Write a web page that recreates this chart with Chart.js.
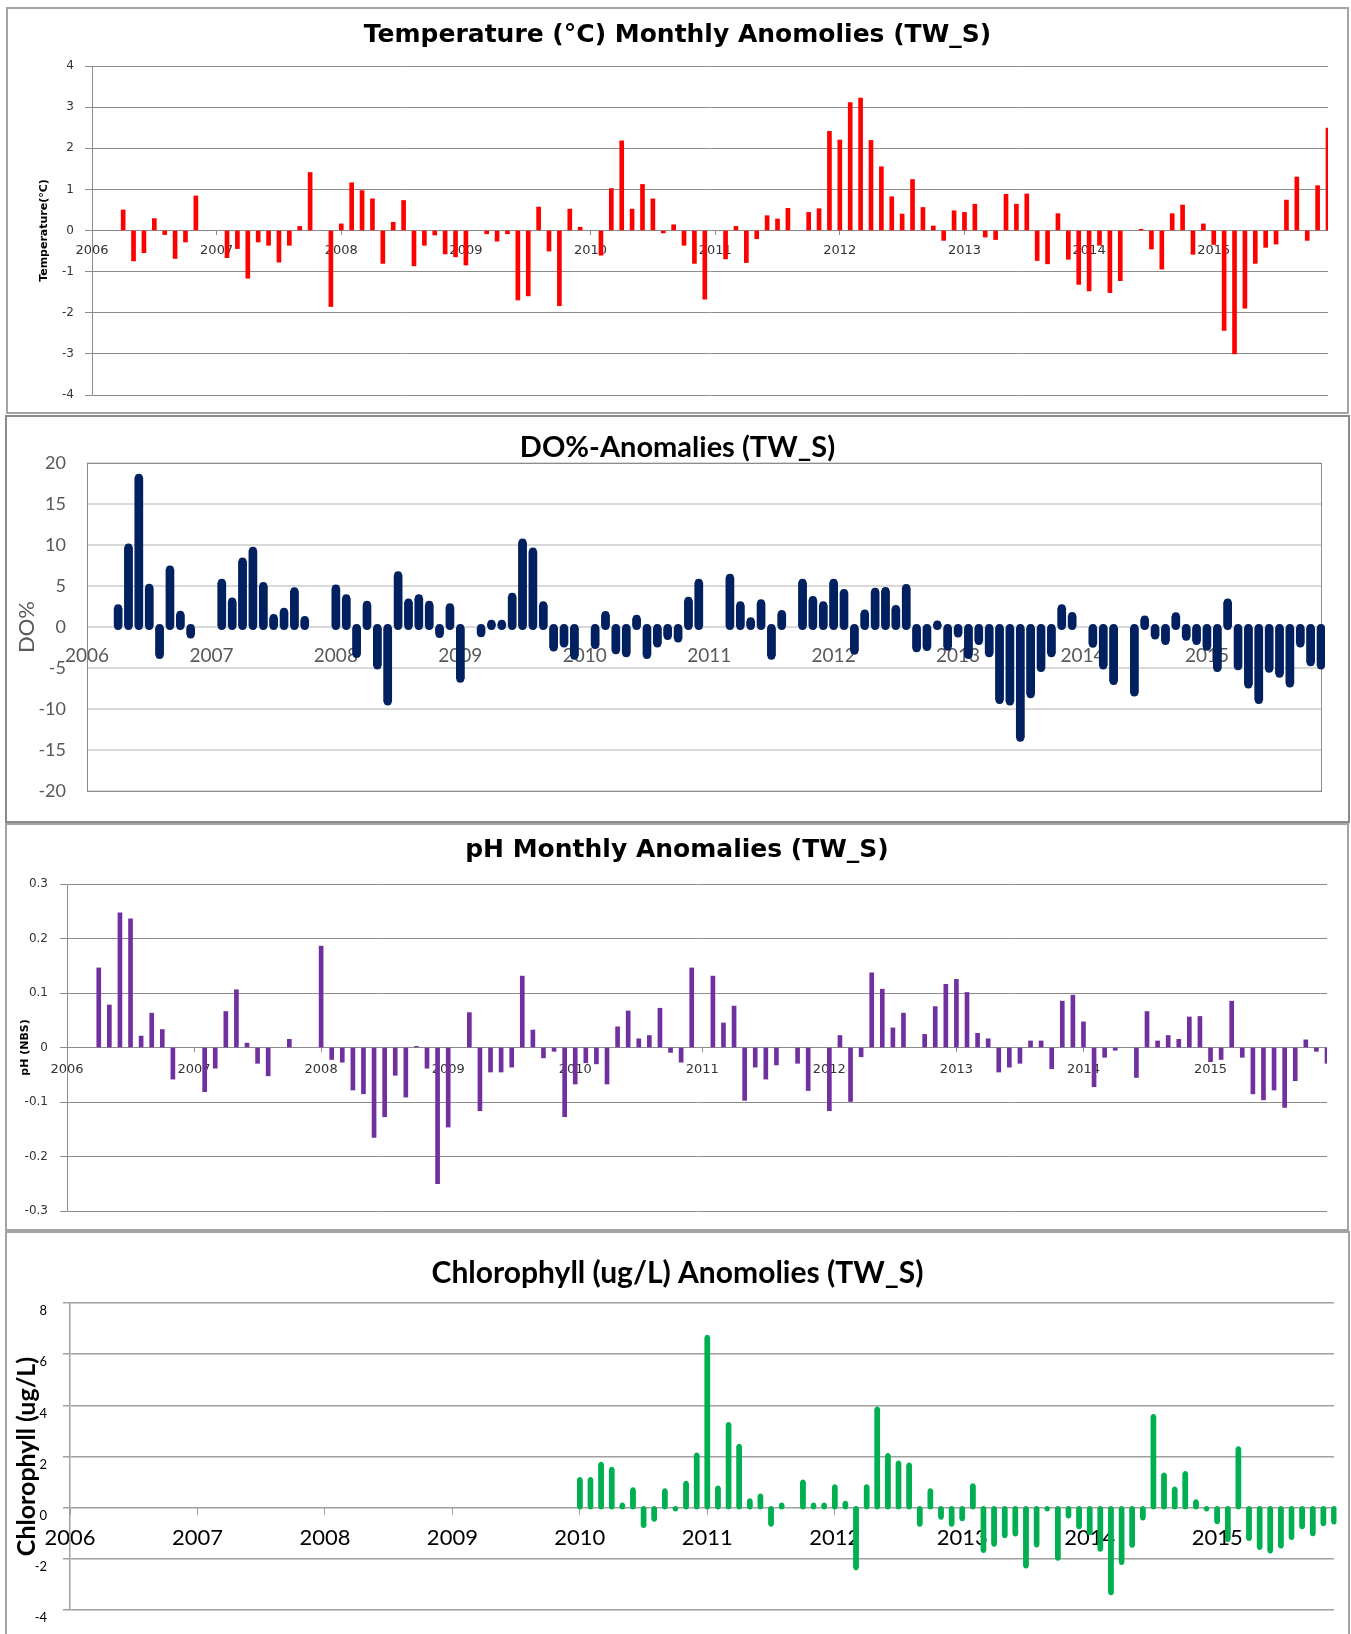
<!DOCTYPE html>
<html>
<head>
<meta charset="utf-8">
<script src="https://cdn.jsdelivr.net/npm/chart.js@4"></script>
<style>
  html, body { margin: 0; padding: 0; background: #fff; }
  body { width: 1351px; height: 1634px; position: relative; overflow: hidden; }
  .panel { position: absolute; box-sizing: border-box; border: 2px solid #a3a3a3; background: #fff; }
  .panel canvas { display: block; }
</style>
</head>
<body>
<div class="panel" style="left:6px;top:7px;width:1343px;height:407px"><canvas id="cTemp" width="1339" height="403"></canvas></div>
<div class="panel" style="left:5px;top:415px;width:1345px;height:408px;border-color:#8a8a8a"><canvas id="cDO" width="1341" height="404"></canvas></div>
<div class="panel" style="left:5px;top:823px;width:1344px;height:408px"><canvas id="cPH" width="1340" height="404"></canvas></div>
<div class="panel" style="left:5px;top:1231px;width:1345px;height:420px"><canvas id="cChl" width="1341" height="416"></canvas></div>

<script>
// ---------- data ----------
const years = [2006, 2007, 2008, 2009, 2010, 2011, 2012, 2013, 2014, 2015];
const monthNames = ['01','02','03','04','05','06','07','08','09','10','11','12'];
const months = [];
years.forEach(y => monthNames.forEach(m => months.push(y + '-' + m)));

// Temperature (°C) monthly anomalies, Jan 2006 .. Dec 2015
const temperature = [
  null, null, null, 0.50, -0.74, -0.54, 0.29, -0.10, -0.68, -0.28, 0.84, null,      // 2006
  null, -0.66, -0.44, -1.16, -0.28, -0.36, -0.77, -0.36, 0.10, 1.41, null, -1.85,   // 2007
  0.16, 1.16, 0.97, 0.77, -0.80, 0.20, 0.73, -0.86, -0.36, -0.11, -0.57, -0.64,     // 2008
  -0.84, null, -0.08, -0.26, -0.08, -1.69, -1.59, 0.57, -0.50, -1.83, 0.52, 0.08,   // 2009
  null, -0.60, 1.02, 2.18, 0.52, 1.12, 0.77, -0.06, 0.14, -0.36, -0.80, -1.67,      // 2010
  null, -0.69, 0.10, -0.78, -0.20, 0.36, 0.28, 0.54, null, 0.44, 0.53, 2.41,        // 2011
  2.20, 3.11, 3.22, 2.19, 1.55, 0.82, 0.40, 1.24, 0.56, 0.11, -0.24, 0.48,          // 2012
  0.44, 0.64, -0.16, -0.22, 0.88, 0.64, 0.89, -0.73, -0.81, 0.41, -0.70, -1.31,     // 2013
  -1.47, -0.36, -1.51, -1.22, null, 0.03, -0.45, -0.94, 0.41, 0.62, -0.58, 0.16,    // 2014
  -0.34, -2.43, -3.00, -1.89, -0.80, -0.41, -0.33, 0.74, 1.30, -0.24, 1.09, 2.49    // 2015
];

// DO% anomalies
const dissolvedOxygen = [
  null, null, null, 2.3, 9.7, 18.2, 4.8, -3.4, 7.0, 1.5, -0.9, null,                // 2006
  null, 5.4, 3.1, 8.0, 9.3, 5.0, 1.1, 1.85, 4.35, 0.85, null, null,                 // 2007
  4.7, 3.5, -3.3, 2.7, -4.7, -9.1, 6.3, 3.0, 3.5, 2.7, -0.85, 2.4,                  // 2008
  -6.3, null, -0.75, 0.4, 0.4, 3.7, 10.3, 9.2, 2.65, -2.5, -2.0, -3.5,              // 2009
  null, -2.2, 1.45, -2.85, -3.2, 1.0, -3.4, -2.0, -1.1, -1.4, 3.2, 5.4,             // 2010
  null, null, 6.0, 2.65, 0.7, 2.9, -3.5, 1.6, null, 5.4, 3.3, 2.65,                 // 2011
  5.4, 4.15, -2.9, 1.65, 4.3, 4.4, 2.2, 4.75, -2.6, -2.45, 0.3, -2.4,               // 2012
  -0.8, -3.4, -1.7, -3.2, -8.9, -9.1, -13.5, -8.2, -5.0, -3.2, 2.3, 1.35,           // 2013
  null, -2.05, -4.7, -6.6, null, -8.0, 0.9, -1.05, -1.7, 1.3, -1.2, -1.7,           // 2014
  -2.4, -5.0, 3.0, -4.8, -7.0, -8.9, -5.1, -5.7, -6.9, -2.0, -4.3, -4.7             // 2015
];

// pH (NBS) monthly anomalies
const ph = [
  null, null, null, 0.146, 0.078, 0.247, 0.236, 0.021, 0.063, 0.033, -0.058, null,          // 2006
  null, -0.081, -0.038, 0.066, 0.106, 0.008, -0.029, -0.052, null, 0.015, null, null,       // 2007
  0.186, -0.022, -0.027, -0.078, -0.085, -0.165, -0.127, -0.051, -0.091, 0.002, -0.038, -0.25, // 2008
  -0.146, null, 0.064, -0.116, -0.045, -0.045, -0.036, 0.131, 0.032, -0.019, -0.007, -0.127, // 2009
  -0.067, -0.028, -0.030, -0.067, 0.038, 0.067, 0.016, 0.022, 0.072, -0.009, -0.027, 0.146,  // 2010
  null, 0.131, 0.045, 0.076, -0.097, -0.036, -0.058, -0.032, null, -0.029, -0.079, null,     // 2011
  -0.116, 0.022, -0.099, -0.017, 0.137, 0.107, 0.036, 0.063, null, 0.024, 0.075, 0.116,      // 2012
  0.125, 0.101, 0.026, 0.016, -0.045, -0.036, -0.029, 0.012, 0.012, -0.039, 0.085, 0.096,    // 2013
  0.047, -0.072, -0.018, -0.005, null, -0.055, 0.066, 0.012, 0.022, 0.015, 0.056, 0.057,     // 2014
  -0.026, -0.022, 0.085, -0.018, -0.085, -0.096, -0.078, -0.110, -0.061, 0.014, -0.007, -0.029 // 2015
];

// Chlorophyll (ug/L) anomalies
const chlorophyll = [
  null, null, null, null, null, null, null, null, null, null, null, null,           // 2006
  null, null, null, null, null, null, null, null, null, null, null, null,           // 2007
  null, null, null, null, null, null, null, null, null, null, null, null,           // 2008
  null, null, null, null, null, null, null, null, null, null, null, null,           // 2009
  1.1, 1.1, 1.7, 1.5, 0.1, 0.7, -0.7, -0.45, 0.66, -0.05, 0.95, 2.06,               // 2010
  6.66, 0.77, 3.25, 2.4, 0.27, 0.46, -0.65, 0.1, null, 1.0, 0.1, 0.1,               // 2011
  0.82, 0.17, -2.35, 0.82, 3.86, 2.04, 1.75, 1.67, -0.65, 0.66, -0.37, -0.65,       // 2012
  -0.43, 0.86, -1.67, -1.43, -1.1, -1.03, -2.28, -1.46, -0.05, -1.98, -0.33, -0.75, // 2013
  -0.98, -1.63, -3.33, -2.14, -1.47, -0.4, 3.56, 1.28, 0.73, 1.34, 0.23, -0.05,     // 2014
  -0.55, -1.24, 2.3, -1.21, -1.56, -1.69, -1.5, -1.17, -0.75, -1.02, -0.63, -0.56   // 2015
];

// ---------- plugins ----------
// Excel-style round line caps on the bars (uses the bar elements' own pixel positions)
const roundCaps = {
  id: 'roundCaps',
  afterDatasetsDraw(chart, args, opts) {
    if (!opts || !opts.width) return;
    const ctx = chart.ctx;
    ctx.save();
    chart.data.datasets.forEach((ds, di) => {
      const meta = chart.getDatasetMeta(di);
      ctx.strokeStyle = ds.backgroundColor;
      ctx.lineWidth = opts.width;
      ctx.lineCap = 'round';
      meta.data.forEach((el, i) => {
        if (ds.data[i] === null || ds.data[i] === undefined) return;
        if (!isFinite(el.x) || !isFinite(el.y) || !isFinite(el.base)) return;
        ctx.beginPath();
        ctx.moveTo(el.x, el.base);
        ctx.lineTo(el.x, el.y);
        ctx.stroke();
      });
    });
    ctx.restore();
  }
};
const plotFrame = {
  id: 'plotFrame',
  beforeDatasetsDraw(chart, args, opts) {
    if (!opts || !opts.color) return;
    const a = chart.chartArea, ctx = chart.ctx;
    ctx.save();
    ctx.strokeStyle = opts.color;
    ctx.lineWidth = 1;
    ctx.strokeRect(Math.round(a.left) + 0.5, Math.round(a.top) + 0.5, Math.round(a.right - a.left), Math.round(a.bottom - a.top));
    ctx.restore();
  }
};

// ---------- chart builder ----------
function build(id, o) {
  const tickVisible = c => (c.index % 12 === 0 ? o.xTickColor : 'rgba(0,0,0,0)');
  const plugins = [];
  if (o.caps) plugins.push(roundCaps);
  if (o.frame) plugins.push(plotFrame);
  return new Chart(document.getElementById(id), {
    type: 'bar',
    data: {
      labels: months,
      datasets: [{
        data: o.data,
        yAxisID: 'y',
        backgroundColor: o.color,
        borderWidth: 0,
        barThickness: o.barWidth,
        categoryPercentage: 1,
        barPercentage: 1
      }]
    },
    plugins: plugins,
    options: {
      responsive: false,
      animation: false,
      events: [],
      layout: { padding: { top: 0, left: 0, right: 0, bottom: o.padBottom } },
      plugins: {
        legend: { display: false },
        tooltip: { enabled: false },
        title: {
          display: true,
          text: o.title,
          color: '#000',
          font: { family: o.titleFamily, size: o.titleSize, weight: 'bold', lineHeight: 1 },
          padding: { top: o.titlePadTop, bottom: o.titlePadBottom }
        },
        roundCaps: { width: o.caps || 0 },
        plotFrame: { color: o.frame || null }
      },
      scales: {
        x: {
          type: 'category',
          position: { y: 0 },
          offset: false,
          grid: {
            display: o.xTickLen > 0,
            drawOnChartArea: false,
            offset: false,
            drawTicks: o.xTickLen > 0,
            tickLength: o.xTickLen,
            lineWidth: 1,
            color: tickVisible,
            tickColor: tickVisible
          },
          border: { display: false },
          ticks: {
            autoSkip: false,
            maxRotation: 0,
            minRotation: 0,
            padding: o.xPad,
            color: o.xColor,
            font: { family: o.xFamily, size: o.xSize, lineHeight: 1 },
            callback: (v, i) => (i % 12 === 0 ? String(years[i / 12]) : '')
          }
        },
        y: {
          min: o.yMin,
          max: o.yMax,
          ticks: {
            stepSize: o.yStep,
            padding: o.yPad,
            color: o.yColor,
            labelOffset: o.yLabelOffset || 0,
            font: { family: o.yFamily, size: o.ySize, lineHeight: 1 }
          },
          grid: {
            color: o.gridColor,
            lineWidth: o.gridWidth,
            drawTicks: o.yTickLen > 0,
            tickLength: o.yTickLen,
            tickColor: o.gridColor
          },
          border: { display: o.yBorder, color: o.gridColor, width: o.gridWidth },
          title: {
            display: true,
            text: o.yTitle,
            color: o.yTitleColor,
            font: { family: o.yTitleFamily, size: o.yTitleSize, weight: o.yTitleWeight, lineHeight: 1 },
            padding: { top: o.yTitlePad, bottom: 0 }
          },
          afterFit: s => { s.width = o.yWidth; }
        },
        // empty right-hand margin box, so the title stays centred on the whole panel
        margin: {
          type: 'linear',
          position: 'right',
          display: true,
          grid: { display: false, drawTicks: false },
          border: { display: false },
          ticks: { display: false },
          afterFit: s => { s.width = o.padRight; }
        }
      }
    }
  });
}

const VERDANA = "'DejaVu Sans', Verdana, sans-serif";
const CALIBRI = "Lato, 'Liberation Sans', sans-serif";

build('cTemp', {
  data: temperature, color: '#ff0000', barWidth: 4,
  title: 'Temperature (°C) Monthly Anomolies (TW_S)', titleFamily: VERDANA, titleSize: 25,
  titlePadTop: 13.5, titlePadBottom: 18.5, padRight: 19, padBottom: 12,
  yMin: -4, yMax: 4, yStep: 1, yWidth: 84, yPad: 11, yTickLen: 7,
  yColor: '#333', yFamily: VERDANA, ySize: 12,
  gridColor: '#8c8c8c', gridWidth: 1, yBorder: true,
  yTitle: 'Temperature(°C)', yTitleColor: '#000', yTitleFamily: VERDANA, yTitleSize: 11, yTitleWeight: 'bold', yTitlePad: 30.5,
  xTickLen: 4, xTickColor: '#8c8c8c', xPad: 9.5, xColor: '#333', xFamily: VERDANA, xSize: 13
});

build('cDO', {
  data: dissolvedOxygen, color: '#002060', barWidth: 8, caps: 8, frame: '#8c8c8c',
  title: 'DO%-Anomalies (TW_S)', titleFamily: CALIBRI, titleSize: 29,
  titlePadTop: 16.5, titlePadBottom: 0.5, padRight: 27, padBottom: 27,
  yMin: -20, yMax: 20, yStep: 5, yWidth: 80, yPad: 21, yTickLen: 0,
  yColor: '#595959', yFamily: CALIBRI, ySize: 18,
  gridColor: '#d9d9d9', gridWidth: 2, yBorder: false,
  yTitle: 'DO%', yTitleColor: '#595959', yTitleFamily: CALIBRI, yTitleSize: 22, yTitleWeight: 'normal', yTitlePad: 9,
  xTickLen: 0, xTickColor: '#8c8c8c', xPad: 19, xColor: '#595959', xFamily: CALIBRI, xSize: 19
});

build('cPH', {
  data: ph, color: '#7030a0', barWidth: 4,
  title: 'pH Monthly Anomalies (TW_S)', titleFamily: VERDANA, titleSize: 25,
  titlePadTop: 12.5, titlePadBottom: 21.5, padRight: 20, padBottom: 10,
  yMin: -0.3, yMax: 0.3, yStep: 0.1, yWidth: 60, yPad: 12, yTickLen: 7,
  yColor: '#333', yFamily: VERDANA, ySize: 12,
  gridColor: '#8c8c8c', gridWidth: 1, yBorder: true,
  yTitle: 'pH (NBS)', yTitleColor: '#000', yTitleFamily: VERDANA, yTitleSize: 11, yTitleWeight: 'bold', yTitlePad: 12.5,
  xTickLen: 4, xTickColor: '#8c8c8c', xPad: 11.5, xColor: '#333', xFamily: VERDANA, xSize: 13
});

build('cChl', {
  data: chlorophyll, color: '#00b050', barWidth: 5, caps: 5,
  title: 'Chlorophyll (ug/L) Anomolies (TW_S)', titleFamily: CALIBRI, titleSize: 30,
  titlePadTop: 25, titlePadBottom: 15, padRight: 14, padBottom: 39,
  yMin: -4, yMax: 8, yStep: 2, yWidth: 63, yPad: 16, yTickLen: 7, yLabelOffset: 8,
  yColor: '#000', yFamily: CALIBRI, ySize: 13,
  gridColor: '#a0a0a0', gridWidth: 1.5, yBorder: true,
  yTitle: 'Chlorophyll (ug/L)', yTitleColor: '#000', yTitleFamily: CALIBRI, yTitleSize: 25, yTitleWeight: 'bold', yTitlePad: 7.5,
  xTickLen: 7, xTickColor: '#a0a0a0', xPad: 12, xColor: '#000', xFamily: CALIBRI, xSize: 22
});
</script>
</body>
</html>
